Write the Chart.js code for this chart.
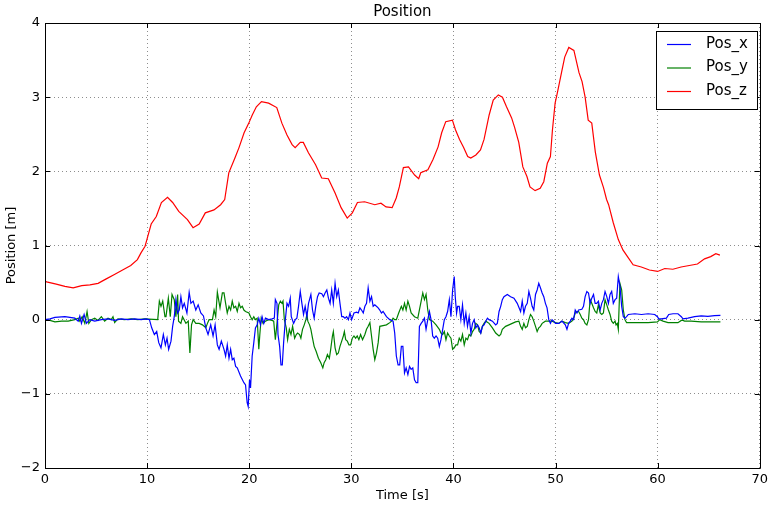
<!DOCTYPE html>
<html>
<head>
<meta charset="utf-8">
<script src="https://cdn.jsdelivr.net/npm/chart.js@4/dist/chart.umd.min.js"></script>
<style>
  html, body { margin: 0; padding: 0; background: #ffffff; }
  canvas { display: block; }
</style>
</head>
<body>
<canvas id="c" width="772" height="505"></canvas>
<script>
// Tick values
const xTicks = [0, 10, 20, 30, 40, 50, 60, 70];
const yTicks = [-2, -1, 0, 1, 2, 3, 4];

// Pos_z samples: time [s] and height [m]
const zTime = [0.0,0.16,1.1,1.95,2.76,3.6,4.4,5.2,6.0,6.8,7.6,8.4,9.05,9.4,9.8,10.06,10.4,10.9,11.4,12.0,12.5,13.1,13.95,14.5,15.1,15.7,16.55,17.2,17.6,18.0,18.6,19.0,19.5,19.96,20.3,20.7,21.2,21.9,22.7,23.2,23.7,24.2,24.5,25.0,25.3,25.8,26.5,27.1,27.75,28.4,29.0,29.6,30.1,30.6,31.3,32.3,32.9,33.4,34.0,34.4,34.7,35.1,35.6,36.2,36.6,36.8,37.5,38.0,38.5,38.85,39.25,39.9,40.2,40.6,41.0,41.4,41.7,42.2,42.65,43.0,43.5,43.9,44.4,44.8,45.2,45.7,46.0,46.4,46.8,47.2,47.5,48.0,48.5,48.85,49.2,49.5,49.7,49.96,50.2,50.6,50.9,51.3,51.8,52.3,52.6,52.9,53.2,53.55,53.9,54.3,54.7,55.0,55.2,55.65,56.15,56.6,57.1,57.6,58.4,59.2,60.0,60.7,61.5,62.3,63.1,63.9,64.6,65.2,65.7,66.1];
const zVals = [0.52,0.51,0.48,0.45,0.43,0.46,0.47,0.49,0.55,0.61,0.67,0.73,0.81,0.90,0.99,1.12,1.29,1.39,1.58,1.65,1.58,1.46,1.35,1.24,1.29,1.44,1.48,1.55,1.62,1.98,2.18,2.32,2.52,2.65,2.76,2.87,2.94,2.92,2.86,2.65,2.49,2.36,2.32,2.39,2.39,2.25,2.09,1.91,1.90,1.71,1.51,1.37,1.44,1.58,1.59,1.55,1.57,1.52,1.51,1.64,1.79,2.05,2.06,1.95,1.90,1.98,2.02,2.16,2.33,2.52,2.67,2.69,2.56,2.43,2.32,2.20,2.18,2.22,2.29,2.43,2.76,2.96,3.03,3.00,2.87,2.72,2.59,2.39,2.06,1.93,1.79,1.74,1.77,1.86,2.11,2.20,2.56,2.92,3.07,3.34,3.54,3.67,3.63,3.33,3.21,3.00,2.69,2.65,2.26,1.95,1.78,1.62,1.55,1.31,1.08,0.94,0.84,0.74,0.71,0.67,0.65,0.69,0.68,0.71,0.73,0.75,0.82,0.85,0.89,0.87];

// Pos_x samples
const xTime = [0.00,0.49,0.97,1.95,2.92,3.25,3.41,3.57,3.83,4.06,4.38,4.87,5.52,6.17,6.82,7.47,8.12,8.77,9.42,9.90,10.23,10.45,10.71,10.94,11.14,11.36,11.59,11.79,11.95,12.11,12.34,12.50,12.66,12.82,12.99,13.15,13.31,13.47,13.64,13.90,14.12,14.29,14.51,14.77,15.00,15.26,15.52,15.75,15.97,16.23,16.46,16.66,16.88,17.05,17.27,17.53,17.69,17.85,18.02,18.18,18.34,18.50,18.67,18.83,19.15,19.48,19.64,19.80,19.90,20.03,20.13,20.29,20.45,20.61,20.78,20.94,21.10,21.26,21.43,21.59,21.91,22.24,22.46,22.56,22.72,22.82,22.98,23.11,23.24,23.37,23.54,23.70,23.86,24.02,24.12,24.35,24.51,24.67,24.83,25.00,25.16,25.32,25.48,25.65,25.81,26.04,26.20,26.36,26.52,26.69,26.85,27.11,27.27,27.43,27.60,27.76,27.92,28.08,28.24,28.41,28.57,28.73,28.89,29.06,29.22,29.38,29.54,29.71,29.87,30.03,30.26,30.52,30.68,30.84,31.00,31.17,31.33,31.49,31.65,31.82,31.98,32.14,32.30,32.46,32.63,32.79,32.95,33.11,33.44,33.77,34.09,34.25,34.41,34.58,34.74,34.90,35.05,35.21,35.37,35.54,35.70,35.86,36.02,36.19,36.35,36.51,36.67,36.84,37.00,37.16,37.32,37.49,37.65,37.81,37.97,38.13,38.30,38.46,38.62,38.78,38.95,39.11,39.27,39.43,39.60,39.76,39.92,40.08,40.18,40.31,40.41,40.57,40.73,40.89,41.06,41.22,41.38,41.54,41.71,41.87,42.03,42.19,42.36,42.52,42.68,42.84,43.00,43.17,43.33,43.49,43.82,44.14,44.30,44.47,44.63,44.79,44.95,45.28,45.60,45.93,46.25,46.58,46.74,46.90,47.06,47.23,47.39,47.55,47.71,47.87,48.04,48.20,48.36,48.52,48.69,48.85,49.01,49.17,49.34,49.50,49.66,49.82,49.99,50.31,50.63,50.96,51.12,51.28,51.45,51.61,51.77,51.93,52.10,52.26,52.58,52.74,52.90,53.07,53.23,53.39,53.55,53.72,53.88,54.04,54.20,54.37,54.53,54.69,54.85,55.02,55.18,55.34,55.50,55.66,55.83,55.99,56.15,56.31,56.48,56.64,56.80,56.96,57.13,57.77,58.42,59.07,59.72,59.98,60.11,60.37,60.86,61.09,61.51,61.99,62.32,62.48,62.97,63.62,64.27,64.92,65.57,66.15];
const xVals = [0,0.01,0.03,0.04,0.02,-0.02,0.05,-0.05,0.07,-0.05,0,-0.02,0,0.01,-0.01,0.01,0,0.01,0,0.01,0,-0.11,-0.20,-0.16,-0.31,-0.38,-0.20,-0.34,-0.25,-0.40,-0.29,-0.09,0.04,0.27,0.09,0.13,0.31,0.16,0.22,0.09,0.37,0.22,0.25,0.13,0.20,0.09,0.05,-0.11,-0.20,-0.07,-0.22,-0.07,-0.34,-0.40,-0.29,-0.40,-0.49,-0.34,-0.52,-0.40,-0.54,-0.52,-0.63,-0.65,-0.76,-0.85,-0.88,-1.12,-1.17,-0.81,-0.92,-0.49,-0.31,-0.11,-0.07,0.02,-0.07,0.04,-0.05,0.02,0,0.01,0.02,0.27,0.22,-0.20,-0.36,-0.61,-0.61,-0.31,0,0.22,0.18,0.29,0.04,-0.05,0,0.02,0.18,0.38,0.22,0.07,0.18,0.04,0.22,0.34,0.13,0.02,0.18,0.31,0.36,0.35,0.31,0.36,0.40,0.29,0.22,0.40,0.22,0.49,0.31,0.40,0.22,0.04,0.04,0.02,0.04,0,0.09,0,0.09,0.10,0.09,0.16,0.13,0.09,0.18,0.22,0.43,0.25,0.31,0.18,0.20,0.18,0.16,0.13,0.09,0.11,0.04,0,-0.02,-0.18,-0.49,-0.61,-0.61,-0.36,-0.36,-0.72,-0.65,-0.74,-0.63,-0.67,-0.65,-0.81,-0.85,-0.85,-0.09,-0.05,-0.02,0.02,-0.13,0,0.11,0,-0.22,-0.25,-0.22,-0.25,-0.36,-0.27,-0.13,0,0.04,0.11,0.27,0.04,0.40,0.58,0.31,0.09,0.18,0.18,0,0.20,-0.05,0.09,-0.09,0.04,-0.18,-0.05,0,-0.11,-0.07,-0.11,-0.18,-0.09,-0.07,-0.02,0.02,0,-0.02,-0.07,-0.05,0.11,0.18,0.27,0.31,0.34,0.31,0.29,0.22,0.11,0.25,0.09,0.18,0.22,0.38,0.29,0.18,0.13,0.34,0.40,0.49,0.43,0.36,0.31,0.22,0.16,0,-0.05,0,-0.02,-0.05,-0.05,-0.02,-0.07,-0.13,-0.05,-0.02,0.02,0,0.13,0.09,0.13,0.14,0.18,0.31,0.38,0.36,0.22,0.29,0.34,0.22,0.22,0.25,0.13,0.22,0.27,0.38,0.31,0.22,0.34,0.38,0.22,0.27,0.29,0.58,0.45,0.18,0.04,0.02,0.04,0.07,0.08,0.07,0.08,0.07,0.04,0.01,0.01,0.02,0.07,0.08,0.08,0.04,0.01,0.02,0.04,0.05,0.045,0.054,0.058];

// Pos_y samples
const yTime = [0.00,0.49,0.97,1.62,2.27,2.92,3.25,3.41,3.64,3.90,4.12,4.29,4.55,4.87,5.19,5.52,5.84,6.17,6.49,6.66,6.82,7.14,7.79,8.44,9.09,9.74,11.04,11.20,11.36,11.53,11.75,11.85,12.08,12.27,12.44,12.66,12.82,12.99,13.08,13.31,13.47,13.80,14.03,14.19,14.35,14.51,14.77,15.10,15.42,15.75,15.91,16.07,16.40,16.56,16.72,16.88,17.14,17.37,17.53,17.69,17.85,18.02,18.18,18.34,18.50,18.67,18.83,19.00,19.15,19.32,19.48,19.64,19.97,20.13,20.29,20.45,20.61,20.78,20.94,21.04,21.17,21.36,21.59,21.91,22.24,22.40,22.56,22.72,22.89,23.05,23.21,23.31,23.44,23.63,23.76,23.93,24.09,24.25,24.45,24.61,24.74,24.93,25.06,25.22,25.39,25.55,25.65,25.74,25.91,26.04,26.20,26.36,26.56,26.78,27.01,27.21,27.34,27.50,27.66,27.85,27.98,28.15,28.24,28.41,28.57,28.73,28.89,29.06,29.22,29.32,29.45,29.61,29.77,29.93,30.10,30.26,30.42,30.58,30.74,30.91,31.10,31.33,31.49,31.65,31.82,31.98,32.14,32.30,32.46,32.63,32.79,33.11,33.44,33.77,33.93,34.09,34.25,34.41,34.64,34.90,35.05,35.21,35.37,35.54,35.70,35.86,36.19,36.51,36.84,37.00,37.16,37.32,37.49,37.65,37.97,38.30,38.62,38.78,38.95,39.11,39.27,39.43,39.60,39.76,39.92,40.08,40.24,40.41,40.57,40.73,40.89,41.06,41.22,41.38,41.54,41.71,41.87,42.03,42.19,42.36,42.52,42.68,42.84,43.00,43.17,43.49,43.82,44.14,44.47,44.63,44.79,45.11,45.44,45.76,46.09,46.41,46.58,46.74,46.90,47.06,47.23,47.39,47.55,47.71,47.87,48.04,48.20,48.36,48.52,48.69,49.01,49.34,49.66,49.99,50.31,50.63,50.96,51.28,51.61,51.77,51.93,52.10,52.26,52.42,52.58,52.74,52.90,53.07,53.23,53.39,53.55,53.72,53.88,54.04,54.20,54.37,54.53,54.69,54.85,55.02,55.18,55.34,55.50,55.66,55.83,55.93,56.05,56.15,56.31,56.48,56.64,56.80,56.96,57.77,59.07,59.98,60.21,60.53,61.02,61.99,62.32,62.48,62.64,63.29,64.27,66.15];
const yVals = [0,-0.01,-0.03,-0.02,-0.02,0,0.02,-0.02,0.04,-0.05,0.11,-0.05,0,0.02,-0.01,0.04,-0.02,0.02,0,0.04,-0.04,0.01,0,0.01,0,0.01,0,0.25,0.18,0.25,0.04,0.04,0.29,0.04,0.34,0.27,0.04,0.34,-0.02,-0.05,0.04,-0.05,-0.02,-0.45,-0.07,0,-0.05,-0.05,-0.07,-0.11,-0.05,0,0,0.13,0.04,0.37,0.16,0.36,0.36,0.22,0.09,0.18,0.13,0.25,0.16,0.18,0.11,0.22,0.16,0.18,0.13,0.11,0.09,0.04,0,0.04,0,0.02,-0.40,-0.20,0.02,-0.05,-0.02,0,-0.01,-0.02,-0.27,-0.05,0.20,0.25,0.22,0.25,0,-0.11,-0.27,-0.13,-0.20,-0.09,-0.25,-0.20,-0.18,-0.20,-0.25,-0.13,-0.07,0,0.07,-0.02,-0.07,-0.13,-0.25,-0.36,-0.43,-0.52,-0.58,-0.65,-0.58,-0.54,-0.47,-0.52,-0.40,-0.22,-0.16,-0.38,-0.47,-0.45,-0.36,-0.29,-0.22,-0.16,-0.27,-0.29,-0.34,-0.34,-0.25,-0.22,-0.25,-0.22,-0.27,-0.20,-0.27,-0.20,-0.13,-0.09,-0.04,-0.22,-0.40,-0.54,-0.45,-0.31,-0.09,-0.08,-0.07,-0.04,-0.02,0.02,0,0,0.09,0.18,0.13,0.22,0.13,0.25,0.18,0.09,0.04,0.02,0.25,0.36,0.27,0.34,0.13,0,-0.02,-0.07,-0.13,-0.18,-0.20,-0.16,-0.27,-0.18,-0.22,-0.25,-0.40,-0.38,-0.34,-0.34,-0.25,-0.29,-0.20,-0.34,-0.25,-0.27,-0.20,-0.22,-0.16,-0.13,-0.05,-0.07,-0.16,-0.18,-0.09,-0.05,-0.02,-0.05,-0.11,-0.18,-0.22,-0.20,-0.13,-0.09,-0.07,-0.05,-0.03,-0.02,-0.09,-0.13,-0.05,-0.11,-0.09,0,0.07,0.04,-0.02,-0.09,-0.16,-0.11,-0.09,-0.05,-0.02,-0.02,-0.02,-0.04,-0.05,-0.02,-0.04,-0.05,-0.02,0.02,0.09,0.11,0.11,0.07,0.02,0,-0.05,-0.07,0,0.27,0.22,0.16,0.11,0.09,0.20,0.09,0.07,0.09,0.27,0.20,0.13,0.07,-0.02,-0.05,-0.02,-0.07,-0.05,-0.13,0.49,0.40,0.13,0,-0.04,-0.04,-0.04,-0.03,0,-0.02,-0.04,-0.04,-0.01,-0.01,-0.02,-0.02,-0.03,-0.03];

const FONT = "'DejaVu Sans', 'Liberation Sans', sans-serif";

function pairs(ts, vs) { return ts.map((t, i) => ({ x: t, y: vs[i] })); }
function fmt(v) { return v < 0 ? '\u2212' + Math.abs(v) : String(v); }

const series = [
  { label: 'Pos_x', data: pairs(xTime, xVals), borderColor: '#0000ff' },
  { label: 'Pos_y', data: pairs(yTime, yVals), borderColor: '#008000' },
  { label: 'Pos_z', data: pairs(zTime, zVals), borderColor: '#ff0000' }
];

// Frame, inward tick marks, title, axis titles and the boxed legend
const decorations = {
  id: 'decorations',
  afterDraw(chart) {
    const { ctx, chartArea: a, scales } = chart;
    ctx.save();
    ctx.strokeStyle = '#000';
    ctx.lineWidth = 1;
    ctx.setLineDash([]);
    ctx.beginPath();
    ctx.rect(Math.round(a.left) + 0.5, Math.round(a.top) + 0.5,
             Math.round(a.right - a.left), Math.round(a.bottom - a.top));
    ctx.stroke();
    ctx.beginPath();
    const L = 5;
    xTicks.forEach(t => {
      const px = Math.round(scales.x.getPixelForValue(t)) + 0.5;
      ctx.moveTo(px, a.bottom); ctx.lineTo(px, a.bottom - L);
      ctx.moveTo(px, a.top); ctx.lineTo(px, a.top + L);
    });
    yTicks.forEach(v => {
      const py = Math.round(scales.y.getPixelForValue(v)) + 0.5;
      ctx.moveTo(a.left, py); ctx.lineTo(a.left + L, py);
      ctx.moveTo(a.right, py); ctx.lineTo(a.right - L, py);
    });
    ctx.stroke();

    ctx.fillStyle = '#000';
    ctx.textAlign = 'center';
    ctx.textBaseline = 'middle';
    ctx.font = '15px ' + FONT;
    ctx.fillText('Position', (a.left + a.right) / 2, 12);
    ctx.font = '13px ' + FONT;
    ctx.fillText('Time [s]', (a.left + a.right) / 2, 496);
    ctx.save();
    ctx.translate(12, (a.top + a.bottom) / 2);
    ctx.rotate(-Math.PI / 2);
    ctx.fillText('Position [m]', 0, 0);
    ctx.restore();

    // legend box
    const bx = 656, by = 31, bw = 101, bh = 78;
    ctx.fillStyle = '#fff';
    ctx.fillRect(bx, by, bw, bh);
    ctx.strokeStyle = '#000';
    ctx.strokeRect(bx + 0.5, by + 0.5, bw, bh);
    ctx.font = '15px ' + FONT;
    ctx.textAlign = 'left';
    chart.data.datasets.forEach((ds, i) => {
      const ry = 44 + i * 23.5;
      ctx.strokeStyle = ds.borderColor;
      ctx.lineWidth = 1.2;
      ctx.beginPath();
      ctx.moveTo(667, ry + 0.5); ctx.lineTo(691, ry + 0.5);
      ctx.stroke();
      ctx.fillStyle = '#000';
      ctx.fillText(ds.label, 706, ry);
    });
    ctx.restore();
  }
};

new Chart(document.getElementById('c'), {
  type: 'line',
  data: {
    datasets: series.map(s => ({
      label: s.label,
      data: s.data,
      borderColor: s.borderColor,
      backgroundColor: s.borderColor,
      borderWidth: 1.2,
      pointRadius: 0,
      tension: 0,
      fill: false
    }))
  },
  options: {
    responsive: false,
    animation: false,
    devicePixelRatio: 1,
    layout: { padding: { top: 23, right: 8, left: 0, bottom: 0 } },
    plugins: { legend: { display: false }, title: { display: false }, tooltip: { enabled: false } },
    scales: {
      x: {
        type: 'linear', min: 0, max: 70,
        afterBuildTicks(s) { s.ticks = xTicks.map(v => ({ value: v })); },
        afterFit(s) { s.height = 37; },
        grid: { color: 'rgba(0,0,0,0.75)', lineWidth: 0.6, drawTicks: false, tickLength: 0 },
        border: { display: true, color: '#000', width: 1, dash: [1, 3] },
        ticks: { padding: 4, color: '#000', font: { family: FONT, size: 13 }, maxRotation: 0, callback: v => fmt(v) }
      },
      y: {
        type: 'linear', min: -2, max: 4,
        afterBuildTicks(s) { s.ticks = yTicks.map(v => ({ value: v })); },
        afterFit(s) { s.width = 45; },
        grid: { color: 'rgba(0,0,0,0.75)', lineWidth: 0.6, drawTicks: false, tickLength: 0 },
        border: { display: true, color: '#000', width: 1, dash: [1, 3] },
        ticks: { padding: 5, color: '#000', font: { family: FONT, size: 13 }, callback: v => fmt(v) }
      }
    }
  },
  plugins: [decorations]
});
</script>
</body>
</html>
